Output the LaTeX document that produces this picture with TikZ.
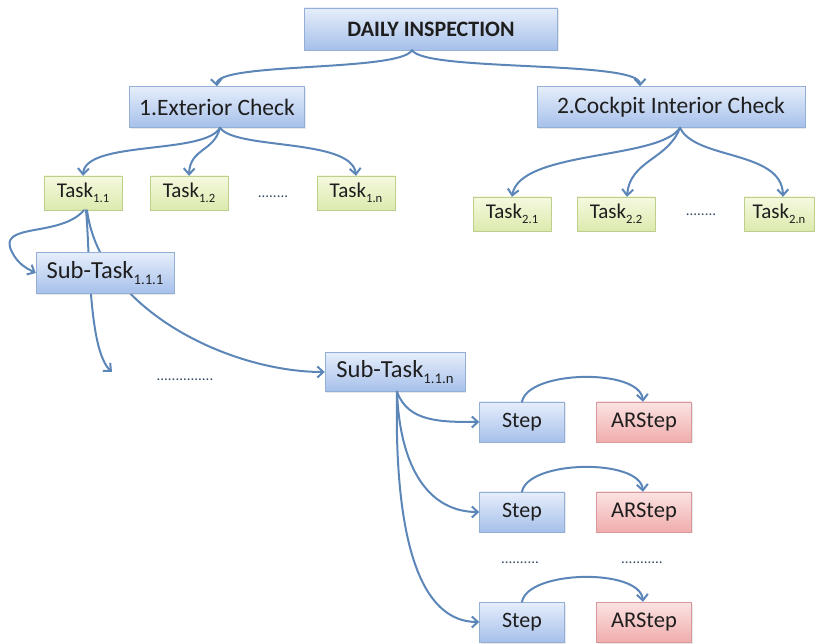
\documentclass[tikz,border=0pt]{standalone}
\usepackage{fontspec}
\setmainfont{Carlito}
\usetikzlibrary{arrows.meta,shadows}

\definecolor{linkc}{HTML}{5C86B8}
\definecolor{bluetop}{HTML}{E6EEFB}
\definecolor{bluebot}{HTML}{A6C0EA}
\definecolor{blueline}{HTML}{94AFD6}
\definecolor{greentop}{HTML}{F5F9DF}
\definecolor{greenbot}{HTML}{DCEAAE}
\definecolor{greenline}{HTML}{BCCF8C}
\definecolor{redtop}{HTML}{FCE3E3}
\definecolor{redbot}{HTML}{F0ADAD}
\definecolor{redline}{HTML}{D79999}
\definecolor{txt}{HTML}{1E1E1E}

\newcommand{\sbs}[1]{\raisebox{-0.5ex}{\fontsize{0.6em}{0.6em}\selectfont #1}}

\tikzset{
  basebox/.style={rectangle, inner sep=0pt, align=center, text=txt,
    drop shadow={opacity=0.18, shadow xshift=1.2pt, shadow yshift=-1.5pt}},
  bluebox/.style={basebox, draw=blueline, top color=bluetop, bottom color=bluebot},
  greenbox/.style={basebox, draw=greenline, top color=greentop, bottom color=greenbot,
    minimum width=78pt, minimum height=34pt, font=\fontsize{21pt}{21pt}\selectfont},
  redbox/.style={basebox, draw=redline, top color=redtop, bottom color=redbot,
    minimum width=95pt, minimum height=40pt, font=\fontsize{22.5pt}{22.5pt}\selectfont},
  stepbox/.style={bluebox, minimum width=85pt, minimum height=40pt,
    font=\fontsize{22pt}{22pt}\selectfont},
  subbox/.style={bluebox, minimum height=41pt, font=\fontsize{24.5pt}{24.5pt}\selectfont},
  dotsnode/.style={inner sep=0pt, text=linkc!55!black, font=\fontsize{15pt}{15pt}\selectfont},
  link/.style={draw=linkc, line width=2pt, line cap=round,
    -{Straight Barb[length=6pt,width=11pt,line width=2pt]}}
}

\begin{document}
\begin{tikzpicture}[x=1pt,y=-1pt]
\useasboundingbox (0,0) rectangle (815,644);

% top of the hierarchy
\node[bluebox, minimum width=253pt, minimum height=42pt,
  font=\bfseries\fontsize{22pt}{22pt}\selectfont] (di) at (431,29) {DAILY INSPECTION};
\node[bluebox, minimum width=175pt, minimum height=41pt,
  font=\fontsize{23.5pt}{23.5pt}\selectfont] (ext) at (217,107) {1.Exterior Check};
\node[bluebox, minimum width=268pt, minimum height=41pt,
  font=\fontsize{23.5pt}{23.5pt}\selectfont] (cock) at (671,107) {2.Cockpit Interior Check};

% tasks
\node[greenbox] (t11) at (83,193) {Task\sbs{1.1}};
\node[greenbox] (t12) at (189,193) {Task\sbs{1.2}};
\node[dotsnode] (d1) at (273,197) {........};
\node[greenbox] (t1n) at (356,193) {Task\sbs{1.n}};

\node[greenbox] (t21) at (512,214) {Task\sbs{2.1}};
\node[greenbox] (t22) at (616,214) {Task\sbs{2.2}};
\node[dotsnode] (d2) at (701,215) {........};
\node[greenbox, minimum width=70pt] (t2n) at (779,214) {Task\sbs{2.n}};

% sub-tasks
\node[subbox, minimum width=140pt, minimum height=39pt] (stn) at (395,372) {Sub-Task\sbs{1.1.n}};
\node[dotsnode] (d3) at (185,380) {...............};

% steps
\node[stepbox] (s1) at (522,422) {Step};
\node[redbox] (a1) at (644,422) {ARStep};
\node[stepbox] (s2) at (522,512) {Step};
\node[redbox] (a2) at (644,512) {ARStep};
\node[dotsnode] (d4) at (520,563) {..........};
\node[dotsnode] (d5) at (642,563) {...........};
\node[stepbox] (s3) at (522,622) {Step};
\node[redbox] (a3) at (644,622) {ARStep};

% connectors that pass behind Sub-Task 1.1.1
\coordinate (d3end) at (112,372);
\draw[link] ([xshift=3pt]t11.south) .. controls (90,250) and (88,350) .. (d3end);
\draw[link] ([xshift=4pt]t11.south) .. controls (100,310) and (230,372) .. (stn.west);

\node[subbox, minimum width=138pt] (st1) at (105,273) {Sub-Task\sbs{1.1.1}};

% level 1
\draw[link] ([xshift=-19pt]di.south) .. controls (400,72) and (215,62) .. (ext.north);
\draw[link] ([xshift=-19pt]di.south) .. controls (425,72) and (640,60) .. ([xshift=-31pt]cock.north);

% level 2
\draw[link] ([xshift=3pt]ext.south) .. controls (205,155) and (85,140) .. (t11.north);
\draw[link] ([xshift=3pt]ext.south) .. controls (214,152) and (190,148) .. (t12.north);
\draw[link] ([xshift=3pt]ext.south) .. controls (235,150) and (352,138) .. (t1n.north);

\draw[link] ([xshift=9pt]cock.south) .. controls (660,160) and (520,150) .. (t21.north);
\draw[link] ([xshift=9pt]cock.south) .. controls (668,160) and (630,160) .. ([xshift=11pt]t22.north);
\draw[link] ([xshift=9pt]cock.south) .. controls (695,160) and (782,150) .. ([xshift=4pt]t2n.north);

% level 3
\draw[link] ([xshift=1pt]t11.south) .. controls (60,238) and (-4,222) .. (12,252)
  .. controls (18,264) and (26,268) .. (st1.west);

% sub-task 1.1.n to its steps
\draw[link] ([xshift=2pt]stn.south) .. controls (408,422) and (440,422) .. (s1.west);
\draw[link] ([xshift=2pt]stn.south) .. controls (400,470) and (430,512) .. (s2.west);
\draw[link] ([xshift=2pt]stn.south) .. controls (394,540) and (420,622) .. (s3.west);

% step to augmented-reality step
\draw[link] (s1.north) .. controls (528,370) and (640,368) .. ([xshift=-1pt]a1.north);
\draw[link] (s2.north) .. controls (528,460) and (640,458) .. ([xshift=-1pt]a2.north);
\draw[link] (s3.north) .. controls (528,570) and (640,568) .. ([xshift=-1pt]a3.north);
\end{tikzpicture}
\end{document}
